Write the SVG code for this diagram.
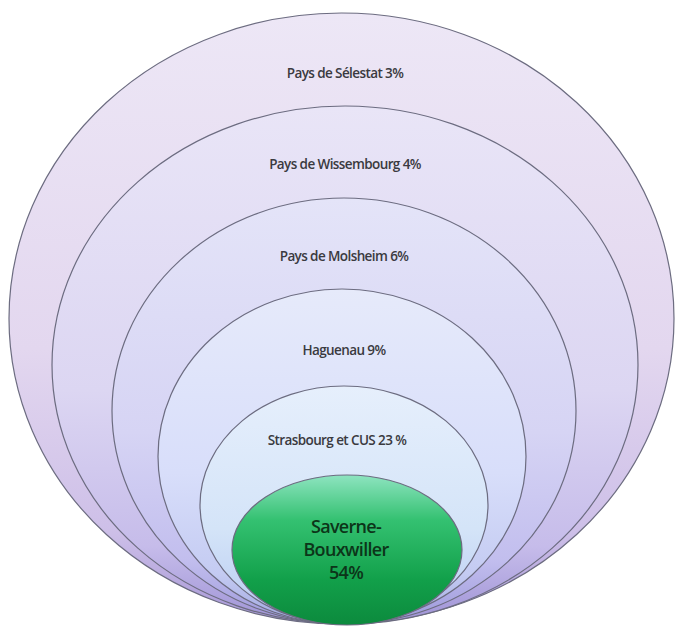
<svg xmlns="http://www.w3.org/2000/svg" width="677" height="627" viewBox="0 0 677 627">
  <defs>
    <linearGradient id="g1" x1="0" y1="0" x2="0" y2="1">
      <stop offset="0" stop-color="#ede7f6"/>
      <stop offset="0.55" stop-color="#e3d7ef"/>
      <stop offset="0.85" stop-color="#cdbfe8"/>
      <stop offset="1" stop-color="#a596d6"/>
    </linearGradient>
    <linearGradient id="g2" x1="0" y1="0" x2="0" y2="1">
      <stop offset="0" stop-color="#e9e5f7"/>
      <stop offset="0.55" stop-color="#dcd6f2"/>
      <stop offset="0.85" stop-color="#c6bcea"/>
      <stop offset="1" stop-color="#9f93d6"/>
    </linearGradient>
    <linearGradient id="g3" x1="0" y1="0" x2="0" y2="1">
      <stop offset="0" stop-color="#e4e4f8"/>
      <stop offset="0.55" stop-color="#d6d4f4"/>
      <stop offset="0.85" stop-color="#c2beee"/>
      <stop offset="1" stop-color="#9c98da"/>
    </linearGradient>
    <linearGradient id="g4" x1="0" y1="0" x2="0" y2="1">
      <stop offset="0" stop-color="#e6eafa"/>
      <stop offset="0.55" stop-color="#d8defa"/>
      <stop offset="0.85" stop-color="#c4cbf2"/>
      <stop offset="1" stop-color="#a0a6e0"/>
    </linearGradient>
    <linearGradient id="g5" x1="0" y1="0" x2="0" y2="1">
      <stop offset="0" stop-color="#e6effc"/>
      <stop offset="0.6" stop-color="#d4e4f8"/>
      <stop offset="0.85" stop-color="#c2d4f4"/>
      <stop offset="1" stop-color="#a8b6e6"/>
    </linearGradient>
    <linearGradient id="g6" x1="0" y1="0" x2="0" y2="1">
      <stop offset="0" stop-color="#8ee4c0"/>
      <stop offset="0.3" stop-color="#34c171"/>
      <stop offset="0.7" stop-color="#12a04a"/>
      <stop offset="1" stop-color="#0c8a3d"/>
    </linearGradient>
  </defs>
  <style>
    .ring { stroke: #6c6c80; stroke-width: 1.2; }
    .lbl { font-family: "Open Sans", "Noto Sans", "Liberation Sans", sans-serif; font-size: 13.5px; font-weight: 600; fill: #3a3a40; text-anchor: middle; letter-spacing: -0.6px; }
    .core { font-family: "Open Sans", "Noto Sans", "Liberation Sans", sans-serif; font-size: 18px; font-weight: 600; fill: #0c3519; text-anchor: middle; letter-spacing: -0.7px; }
  </style>
  <rect width="677" height="627" fill="#ffffff"/>
  <g id="selestat">
    <ellipse class="ring" cx="341.5" cy="318.5" rx="332.5" ry="305.5" fill="url(#g1)"/>
    <text class="lbl" x="345" y="78">Pays de Sélestat 3%</text>
  </g>
  <g id="wissembourg">
    <ellipse class="ring" cx="345" cy="365" rx="293" ry="259" fill="url(#g2)"/>
    <text class="lbl" x="345" y="169">Pays de Wissembourg 4%</text>
  </g>
  <g id="molsheim">
    <ellipse class="ring" cx="344" cy="411" rx="232" ry="213" fill="url(#g3)"/>
    <text class="lbl" x="344" y="261">Pays de Molsheim 6%</text>
  </g>
  <g id="haguenau">
    <ellipse class="ring" cx="342" cy="456.5" rx="184" ry="167.5" fill="url(#g4)"/>
    <text class="lbl" x="344" y="355">Haguenau 9%</text>
  </g>
  <g id="strasbourg">
    <ellipse class="ring" cx="344" cy="505" rx="144" ry="119" fill="url(#g5)"/>
    <text class="lbl" x="337" y="445">Strasbourg et CUS 23 %</text>
  </g>
  <g id="saverne">
    <ellipse class="ring" cx="347" cy="550" rx="115" ry="75" fill="url(#g6)" stroke="#3d6650"/>
    <text class="core" x="346" y="533">Saverne-</text>
    <text class="core" x="346" y="556">Bouxwiller</text>
    <text class="core" x="346" y="579">54%</text>
  </g>
  <g id="connectors"/>
</svg>
